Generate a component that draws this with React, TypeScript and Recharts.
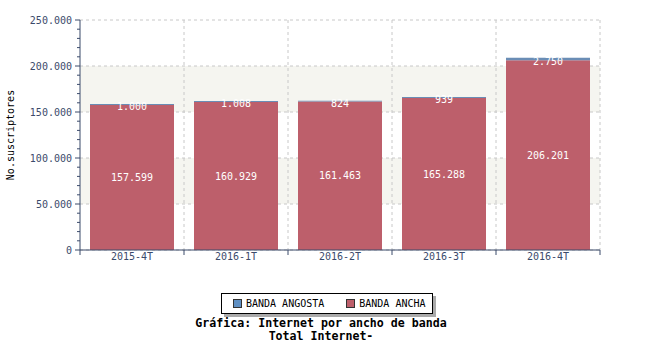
import React from 'react';
import { BarChart, Bar, XAxis, YAxis, CartesianGrid, Legend, LabelList } from 'recharts';

const categories = ['2015-4T', '2016-1T', '2016-2T', '2016-3T', '2016-4T'];
const bandaAncha = [157599, 160929, 161463, 165288, 206201];
const bandaAngosta = [1000, 1008, 824, 939, 2750];
const yTicks = [0, 10000, 20000, 30000, 40000, 50000, 60000, 70000, 80000, 90000, 100000, 110000, 120000, 130000, 140000, 150000, 160000, 170000, 180000, 190000, 200000, 210000, 220000, 230000, 240000, 250000];
const yMajor = [0, 50000, 100000, 150000, 200000, 250000];

const data = categories.map((c, i) => ({ cat: c, ancha: bandaAncha[i], angosta: bandaAngosta[i] }));

const AXIS = '#3b4a6b';
const FONT = '"DejaVu Sans Mono", monospace';
const RED = '#bd5f6b';
const BLUE = '#6a8db5';

const fmt = (v: number) => String(v).replace(/\B(?=(\d{3})+(?!\d))/g, '.');

const YTick = (props: any) => {
  const { x, y, payload } = props;
  const major = yMajor.includes(payload.value);
  return (
    <g>
      <line x1={x - (major ? 5 : 3)} x2={x} y1={y} y2={y} stroke={AXIS} strokeWidth={1} />
      {major && (
        <text x={x - 8} y={y + 4} textAnchor="end" fontFamily={FONT} fontSize={10} fill={AXIS}>
          {fmt(payload.value)}
        </text>
      )}
    </g>
  );
};

const XTick = (props: any) => {
  const { x, y, payload, width, visibleTicksCount, index } = props;
  const half = width / visibleTicksCount / 2;
  return (
    <g>
      <line x1={x - half} x2={x - half} y1={y} y2={y + 5} stroke={AXIS} strokeWidth={1} />
      {index === visibleTicksCount - 1 && (
        <line x1={x + half} x2={x + half} y1={y} y2={y + 5} stroke={AXIS} strokeWidth={1} />
      )}
      <text x={x} y={y + 9.5} textAnchor="middle" fontFamily={FONT} fontSize={10} fill={AXIS}>
        {payload.value}
      </text>
    </g>
  );
};

const LegendContent = () => (
  <div
    style={{
      border: '1px solid #000',
      background: '#fff',
      boxShadow: '3px 3px 0 #aaa',
      height: 19,
      display: 'flex',
      alignItems: 'center',
      fontFamily: FONT,
      fontSize: 10,
      color: '#000',
      boxSizing: 'content-box',
    }}
  >
    <span style={{ display: 'inline-block', width: 7, height: 7, background: '#5f8fc2', border: '1px solid #333', marginLeft: 11, marginRight: 4 }} />
    <span>BANDA ANGOSTA</span>
    <span style={{ display: 'inline-block', width: 7, height: 7, background: RED, border: '1px solid #333', marginLeft: 22, marginRight: 4 }} />
    <span>BANDA ANCHA</span>
  </div>
);

const YLabel = (props: any) => {
  const vb = props.viewBox || {};
  const cx = (vb.x || 0) + 10;
  const cy = (vb.y || 0) + (vb.height || 0) / 2;
  return (
    <text x={cx} y={cy} transform={`rotate(-90, ${cx}, ${cy})`} textAnchor="middle" dominantBaseline="central" fontFamily={FONT} fontSize={10} fill="#000">
      No.suscriptores
    </text>
  );
};

export default function App() {
  return (
    <div style={{ position: 'absolute', left: 0, top: 0, width: 650, height: 350, background: '#fff' }}>
      <BarChart width={650} height={350} data={data} margin={{ top: 20, right: 50, bottom: 80, left: 0 }}>
        <CartesianGrid
          stroke="#c8c8c8"
          strokeDasharray="3 3"
          horizontalValues={yMajor}
          horizontalFill={['#ffffff', '#f5f5f0']}
          fillOpacity={1}
          verticalCoordinatesGenerator={({ offset }: any) =>
            categories.map((_, i) => offset.left + ((i + 1) * offset.width) / categories.length)
          }
        />
        <XAxis
          dataKey="cat"
          height={20}
          tickLine={false}
          tickSize={0}
          tickMargin={0}
          stroke={AXIS}
          tick={<XTick />}
          interval={0}
        />
        <YAxis
          width={80}
          domain={[0, 250000]}
          ticks={yTicks}
          interval={0}
          tickLine={false}
          tickSize={0}
          tickMargin={0}
          stroke={AXIS}
          tick={<YTick />}
          label={<YLabel />}
        />
        <Legend
          layout="horizontal"
          verticalAlign="middle"
          align="center"
          wrapperStyle={{ position: 'absolute', left: 221, top: 293, width: 212, height: 21 }}
          content={<LegendContent />}
        />
        <Bar dataKey="ancha" stackId="a" fill={RED} barSize={84} isAnimationActive={false}>
          <LabelList dataKey="ancha" position="center" formatter={(v: any) => fmt(v)} fill="#fff" fontFamily={FONT} fontSize={10} />
        </Bar>
        <Bar dataKey="angosta" stackId="a" fill={BLUE} barSize={84} isAnimationActive={false}>
          <LabelList dataKey="angosta" position="center" formatter={(v: any) => fmt(v)} fill="#fff" fontFamily={FONT} fontSize={10} dy={2} />
        </Bar>
      </BarChart>
      <div style={{ position: 'absolute', left: 0, top: 317, width: 642, textAlign: 'center', fontFamily: FONT, fontWeight: 'bold', fontSize: 11.6, lineHeight: '13px', color: '#000' }}>
        Gráfica: Internet por ancho de banda
        <br />
        Total Internet-
      </div>
    </div>
  );
}
